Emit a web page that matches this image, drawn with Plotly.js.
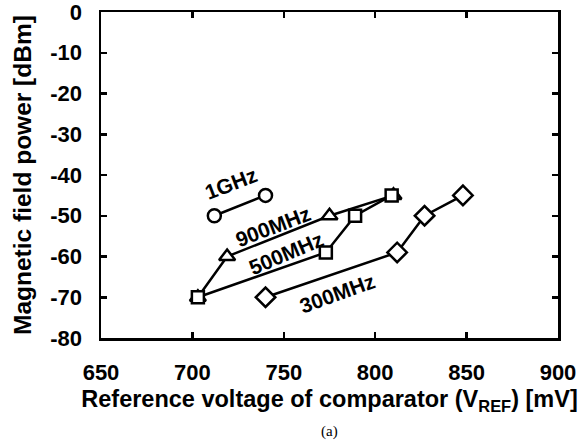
<!DOCTYPE html>
<html>
<head>
<meta charset="utf-8">
<script src="https://cdn.plot.ly/plotly-3.0.1.min.js"></script>
<style>
  html, body { margin: 0; padding: 0; background: #fff; }
  #chart { width: 584px; height: 442px; }
</style>
</head>
<body>
<div id="chart"></div>
<script>
// Magnetic field power vs comparator reference voltage, per frequency
const vref1GHz = [712, 740];
const pow1GHz = [-50, -45];

const vref900MHz = [703, 719, 775, 810];
const pow900MHz = [-70, -60, -50, -45];

const vref500MHz = [703, 773, 789, 809];
const pow500MHz = [-70, -59, -50, -45];

const vref300MHz = [740, 812, 827, 848];
const pow300MHz = [-70, -59, -50, -45];

const xTicks = [650, 700, 750, 800, 850, 900];
const yTicks = [0, -10, -20, -30, -40, -50, -60, -70, -80];

const seriesLabels = ['1GHz', '900MHz', '500MHz', '300MHz'];

const FONT = 'Liberation Sans';
const boldFont = size => ({ family: FONT, size: size, color: '#000', weight: 'bold' });

function series(x, y, symbol, size) {
  return {
    x: x, y: y, type: 'scatter', mode: 'lines+markers',
    line: { color: '#000', width: 2.5 },
    marker: { symbol: symbol, size: size, color: '#fff', line: { color: '#000', width: 2.5 } },
    showlegend: false, cliponaxis: false
  };
}

const data = [
  series(vref1GHz, pow1GHz, 'circle', 13),
  series(vref900MHz, pow900MHz, 'triangle-up', 14),
  series(vref500MHz, pow500MHz, 'square', 12),
  series(vref300MHz, pow300MHz, 'diamond', 15)
];

// Inline labels placed in data coordinates beside each curve
const labelPos = [
  { x: 721, y: -42, angle: -21 },
  { x: 744, y: -52.7, angle: -21 },
  { x: 751, y: -59.2, angle: -23 },
  { x: 779, y: -69, angle: -20 }
];

const annotations = seriesLabels.map((t, i) => ({
  x: labelPos[i].x, y: labelPos[i].y, xref: 'x', yref: 'y',
  text: t, showarrow: false, textangle: labelPos[i].angle,
  font: boldFont(21)
}));

// Y-axis title, set close to the left edge of the figure
annotations.push({
  x: 0, y: 0.5, xref: 'paper', yref: 'paper', xanchor: 'center', yanchor: 'middle',
  xshift: -79, text: 'Magnetic field power [dBm]', showarrow: false, textangle: -90,
  font: boldFont(24.5)
});

annotations.push({
  x: 0.5, y: -0.286, xref: 'paper', yref: 'paper', yanchor: 'middle',
  text: '(a)', showarrow: false,
  font: { family: 'Liberation Serif', size: 15, color: '#000' }
});

const axisCommon = {
  showgrid: false, zeroline: false,
  showline: true, linecolor: '#000', linewidth: 2.5, mirror: 'ticks',
  ticks: 'inside', ticklen: 6, tickwidth: 2.5, tickcolor: '#000',
  tickfont: boldFont(22), ticklabeloverflow: 'allow'
};

const layout = {
  width: 584, height: 442,
  margin: { l: 101, r: 26, t: 12, b: 104 },
  paper_bgcolor: '#fff', plot_bgcolor: '#fff',
  xaxis: Object.assign({}, axisCommon, {
    range: [650, 900], tickvals: xTicks, ticktext: xTicks.map(String),
    ticklabelstandoff: 13,
    title: { text: 'Reference voltage of comparator (V<sub>REF</sub>) [mV]', standoff: 7,
             font: boldFont(23.5) }
  }),
  yaxis: Object.assign({}, axisCommon, {
    range: [-80, 0], tickvals: yTicks, ticktext: yTicks.map(String),
    ticklabelstandoff: 12
  }),
  annotations: annotations
};

Plotly.newPlot('chart', data, layout, { displayModeBar: false, staticPlot: true });
</script>
</body>
</html>
